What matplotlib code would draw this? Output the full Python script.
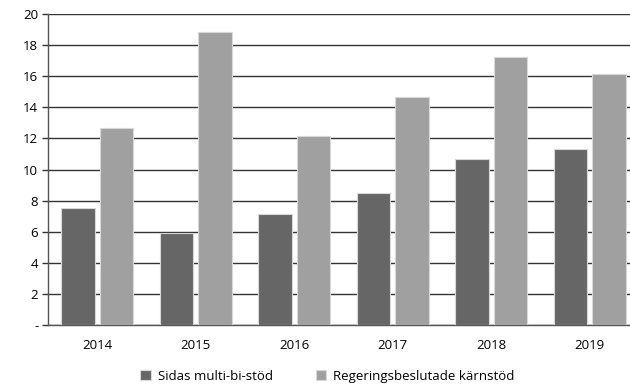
import matplotlib.pyplot as plt
import numpy as np

years = ['2014', '2015', '2016', '2017', '2018', '2019']
multi_bi = [7.52, 5.9, 7.14, 8.5, 10.7, 11.34]
karnstod = [12.68, 18.82, 12.15, 14.64, 17.25, 16.14]
yticks = [0, 2, 4, 6, 8, 10, 12, 14, 16, 18, 20]
ytick_labels = ['-'] + [str(v) for v in yticks[1:]]

plt.rcParams['font.family'] = ['Open Sans', 'DejaVu Sans']

fig = plt.figure(figsize=(6.3, 3.89), dpi=100)
ax = fig.add_axes([0.0762, 0.1645, 0.938, 0.7995])

x = np.arange(len(years))
w = 0.34
ax.bar(x - 0.196, multi_bi, w, color='#666666', edgecolor='#d8d8d8', linewidth=0.8,
       label='Sidas multi-bi-stöd', zorder=3)
ax.bar(x + 0.196, karnstod, w, color='#a0a0a0', edgecolor='#d8d8d8', linewidth=0.8,
       label='Regeringsbeslutade kärnstöd', zorder=3)

ax.set_xlim(-0.5, 5.5)
ax.set_ylim(0, 20)
ax.set_yticks(yticks)
ax.set_yticklabels(ytick_labels)
ax.set_xticks(x)
ax.set_xticklabels(years)
ax.yaxis.grid(True, color='#333333', linewidth=1.0, zorder=0)
ax.set_axisbelow(True)
ax.tick_params(axis='y', length=4, width=1.0, color='#333333', labelsize=9.5, pad=3)
ax.tick_params(axis='x', length=0, labelsize=9.5, pad=10)
for s in ['top', 'right']:
    ax.spines[s].set_visible(False)
ax.spines['left'].set_color('#555555')
ax.spines['bottom'].set_color('#555555')
ax.spines['left'].set_linewidth(1.0)
ax.spines['bottom'].set_linewidth(1.0)

handles, labels = ax.get_legend_handles_labels()
fig.legend(handles, labels, loc='center', bbox_to_anchor=(0.52, 0.033), ncol=2,
           frameon=False, fontsize=9.5, handlelength=0.8, handleheight=0.85,
           handletextpad=0.55, columnspacing=3.2)

fig.savefig('out.png', dpi=100)
